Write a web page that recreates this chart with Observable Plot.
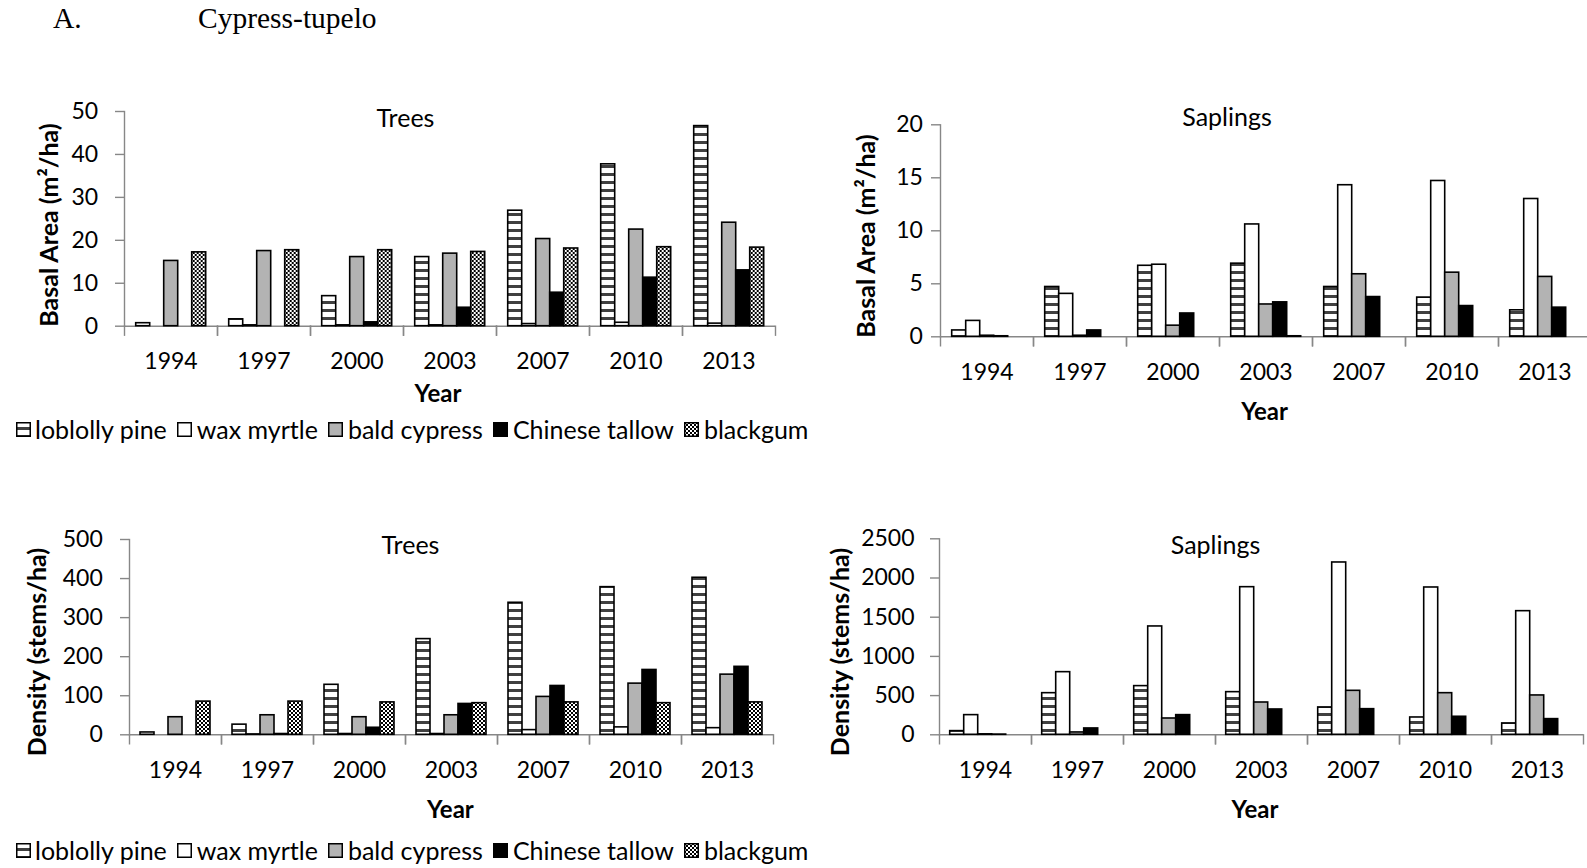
<!DOCTYPE html>
<html><head><meta charset="utf-8">
<script src="https://cdn.jsdelivr.net/npm/d3@7"></script>
<script src="https://cdn.jsdelivr.net/npm/@observablehq/plot@0.6"></script>
<style>
html,body{margin:0;padding:0;background:#fff;overflow:hidden;}
#root{position:relative;width:1587px;height:868px;overflow:hidden;font-family:Lato,sans-serif;color:#000;}
.abs{position:absolute;white-space:nowrap;line-height:1;}
.ctr{transform:translate(-50%,-50%);}
.rot{transform:translate(-50%,-50%) rotate(-90deg);}
.t{font-size:25px;}
.b{font-size:24px;font-weight:bold;}
.by{font-size:25px;font-weight:bold;}
.serif{font-family:"Liberation Serif","Times New Roman",serif;font-size:29.5px;}
.legend{display:flex;align-items:center;font-size:25px;}
.legend .item{display:flex;align-items:center;margin-right:10.5px;}
.legend svg{margin-right:4.5px;display:block;}
.chart{position:absolute;}
</style></head>
<body>
<svg width="0" height="0" style="position:absolute">
  <defs>
    <pattern id="stripes" patternUnits="userSpaceOnUse" width="8" height="8">
      <rect width="8" height="8" fill="#fff"></rect>
      <rect y="5" width="8" height="3" fill="#404040"></rect>
    </pattern>
    <pattern id="checks" patternUnits="userSpaceOnUse" width="4" height="4">
      <rect width="4" height="4" fill="#fff"></rect>
      <rect width="2" height="2" fill="#000"></rect>
      <rect x="2" y="2" width="2" height="2" fill="#000"></rect>
    </pattern>
  </defs>
</svg>
<div id="root"></div>
<script>
// ---------- data ----------
const years = ["1994", "1997", "2000", "2003", "2007", "2010", "2013"];
const species = ["loblolly pine", "wax myrtle", "bald cypress", "Chinese tallow", "blackgum"];
const speciesFills = ["url(#stripes)", "#ffffff", "#b3b3b3", "#000000", "url(#checks)"];

// Trees, basal area (m²/ha), by year
const treeBasalLoblolly = [0.7, 1.6, 7.0, 16.1, 26.9, 37.7, 46.6];
const treeBasalWaxMyrtle = [0, 0.2, 0.2, 0.2, 0.5, 0.8, 0.6];
const treeBasalBaldCypress = [15.2, 17.5, 16.1, 16.9, 20.3, 22.5, 24.1];
const treeBasalTallow = [0, 0, 0.9, 4.3, 7.8, 11.3, 13.0];
const treeBasalBlackgum = [17.2, 17.7, 17.7, 17.3, 18.1, 18.4, 18.3];

// Saplings, basal area (m²/ha)
const saplingBasalLoblolly = [0.6, 4.7, 6.7, 6.9, 4.7, 3.7, 2.5];
const saplingBasalWaxMyrtle = [1.5, 4.05, 6.8, 10.6, 14.3, 14.7, 13.0];
const saplingBasalBaldCypress = [0.1, 0.1, 1.05, 3.05, 5.9, 6.05, 5.65];
const saplingBasalTallow = [0.05, 0.6, 2.2, 3.25, 3.75, 2.9, 2.75];
const saplingBasalBlackgum = [0, 0, 0, 0.05, 0, 0, 0];

// Trees, density (stems/ha)
const treeDensityLoblolly = [6, 26, 128, 245, 338, 378, 402];
const treeDensityWaxMyrtle = [0, 1, 2, 2, 12, 19, 17];
const treeDensityBaldCypress = [45, 50, 45, 50, 97, 131, 154];
const treeDensityTallow = [0, 2, 18, 79, 125, 166, 174];
const treeDensityBlackgum = [85, 85, 83, 81, 83, 81, 83];

// Saplings, density (stems/ha)
const saplingDensityLoblolly = [47, 531, 621, 544, 349, 221, 145];
const saplingDensityWaxMyrtle = [251, 799, 1382, 1883, 2198, 1879, 1577];
const saplingDensityBaldCypress = [6, 30, 208, 412, 561, 531, 502];
const saplingDensityTallow = [3, 81, 251, 323, 327, 230, 200];
const saplingDensityBlackgum = [0, 0, 0, 0, 0, 0, 0];

const basalTicks = [0, 10, 20, 30, 40, 50];
const saplingBasalTicks = [0, 5, 10, 15, 20];
const densityTicks = [0, 100, 200, 300, 400, 500];
const saplingDensityTicks = [0, 500, 1000, 1500, 2000, 2500];

// ---------- drawing ----------
const root = document.getElementById("root");
const axisGray = "#878787";

function rowsOf(series) {
  return years.flatMap((yr, i) => species.map((sp, j) => ({year: yr, species: sp, value: series[j][i]})));
}

function chart(cfg) {
  const rows = rowsOf(cfg.series).filter(d => d.value > 0);
  const plotH = cfg.height - cfg.mT - cfg.mB;
  const svg = Plot.plot({
    width: cfg.width, height: cfg.height,
    marginLeft: cfg.mL, marginRight: cfg.mR, marginTop: cfg.mT, marginBottom: cfg.mB,
    style: {fontFamily: "Lato, sans-serif", fontSize: "23px", color: "#000", background: "transparent", overflow: "visible"},
    fx: {domain: years, padding: 0, axis: null},
    x: {domain: species, paddingInner: 0, paddingOuter: 0.75, axis: null},
    y: {domain: [0, cfg.yMax], axis: null},
    color: {type: "ordinal", domain: species, range: speciesFills},
    marks: [
      Plot.ruleY([0], {stroke: axisGray, strokeWidth: 1.4}),
      Plot.frame({anchor: "left", stroke: axisGray, strokeWidth: 1.4, insetTop: plotH, insetBottom: -9}),
      Plot.frame({anchor: "right", stroke: axisGray, strokeWidth: 1.4, insetTop: plotH, insetBottom: -9}),
      Plot.frame({anchor: "left", facetAnchor: "left", stroke: axisGray, strokeWidth: 1.4}),
      Plot.barY(rows, {fx: "year", x: "species", y: "value", fill: "species", stroke: "#000", strokeWidth: 1.6, inset: 0}),
      Plot.axisY({ticks: cfg.ticks, tickSize: 9, tickPadding: cfg.yPad, stroke: axisGray, strokeWidth: 1.4, fill: "#000", fontSize: 23, label: null, tickFormat: d => String(d)}),
      Plot.axisFx({anchor: "bottom", tickSize: 0, tickPadding: cfg.fxPad, fill: "#000", fontSize: 23, label: null})
    ]
  });
  svg.classList.add("chart");
  svg.style.left = cfg.left + "px";
  svg.style.top = cfg.top + "px";
  root.appendChild(svg);
}

function text(str, x, y, cls) {
  const d = document.createElement("div");
  d.className = "abs " + cls;
  d.style.left = x + "px";
  d.style.top = y + "px";
  d.textContent = str;
  root.appendChild(d);
  return d;
}

function legend(x, top) {
  const d = document.createElement("div");
  d.className = "abs legend";
  d.style.left = x + "px";
  d.style.top = top + "px";
  species.forEach((sp, i) => {
    const item = document.createElement("div");
    item.className = "item";
    item.innerHTML = `<svg width="15" height="15"><rect x="0.75" y="0.75" width="13.5" height="13.5" fill="${speciesFills[i]}" stroke="#000" stroke-width="1.5"></rect></svg><span>${sp}</span>`;
    d.appendChild(item);
  });
  root.appendChild(d);
}

// Titles
text("A.", 53, 3.5, "serif");
text("Cypress-tupelo", 198, 3.5, "serif");

// Top-left: Trees basal area
chart({left: 0, top: 80, width: 800, height: 300, mL: 123.3, mR: 24.3, mT: 31, mB: 54.3,
  yMax: 50, ticks: basalTicks, yPad: 17.4, fxPad: 26,
  series: [treeBasalLoblolly, treeBasalWaxMyrtle, treeBasalBaldCypress, treeBasalTallow, treeBasalBlackgum]});
text("Trees", 405.5, 116.5, "t ctr");
text("Year", 438, 392.5, "b ctr");
text("Basal Area (m\u00b2/ha)", 48, 224.5, "by rot");
legend(15.5, 417);

// Top-right: Saplings basal area
chart({left: 820, top: 90, width: 800, height: 300, mL: 119.3, mR: 28.3, mT: 34.3, mB: 53.7,
  yMax: 20, ticks: saplingBasalTicks, yPad: 8.6, fxPad: 26.4,
  series: [saplingBasalLoblolly, saplingBasalWaxMyrtle, saplingBasalBaldCypress, saplingBasalTallow, saplingBasalBlackgum]});
text("Saplings", 1227, 116, "t ctr");
text("Year", 1264.6, 411, "b ctr");
text("Basal Area (m\u00b2/ha)", 865.3, 236.3, "by rot");

// Bottom-left: Trees density
chart({left: 0, top: 500, width: 800, height: 280, mL: 126, mR: 24, mT: 39, mB: 45.7,
  yMax: 500, ticks: densityTicks, yPad: 17.7, fxPad: 26.7,
  series: [treeDensityLoblolly, treeDensityWaxMyrtle, treeDensityBaldCypress, treeDensityTallow, treeDensityBlackgum]});
text("Trees", 410.5, 543.7, "t ctr");
text("Year", 450.4, 808.6, "b ctr");
text("Density (stems/ha)", 36.4, 652.3, "by rot");
legend(15.5, 838);

// Bottom-right: Saplings density
chart({left: 820, top: 500, width: 800, height: 280, mL: 118.3, mR: 35.6, mT: 38.3, mB: 45.7,
  yMax: 2500, ticks: saplingDensityTicks, yPad: 16, fxPad: 26.7,
  series: [saplingDensityLoblolly, saplingDensityWaxMyrtle, saplingDensityBaldCypress, saplingDensityTallow, saplingDensityBlackgum]});
text("Saplings", 1215.5, 543.7, "t ctr");
text("Year", 1255, 808.6, "b ctr");
text("Density (stems/ha)", 839, 652.3, "by rot");
</script>
</body></html>
